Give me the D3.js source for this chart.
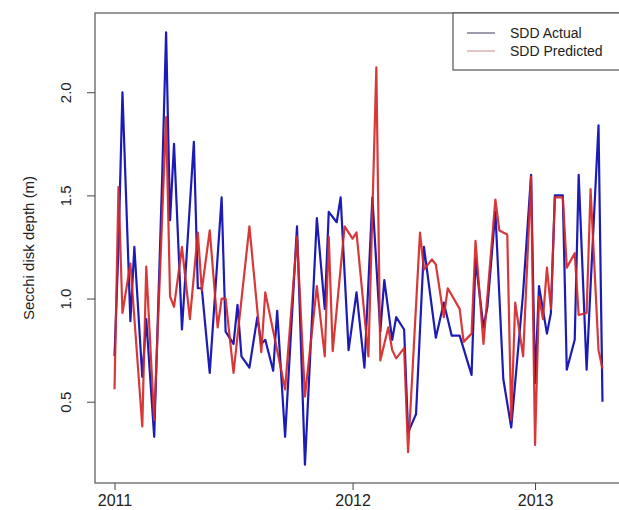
<!DOCTYPE html>
<html>
<head>
<meta charset="utf-8">
<script src="https://cdn.jsdelivr.net/npm/d3@7"></script>
<style>
  body { margin: 0; background: #fff; }
  svg { display: block; font-family: "Liberation Sans", Arial, sans-serif; }
</style>
</head>
<body>
<svg id="chart" width="619" height="510"></svg>
<script>
"use strict";

// observation number -> Secchi disk depth (m), turning points of each series
const actualObs = [1, 2, 3, 5, 6, 8, 9, 11, 13, 14, 15, 16, 18, 21, 22, 23, 25, 28, 29, 31, 32, 33, 35, 37, 38, 39, 41, 42, 44, 47, 49, 52, 54, 55, 57, 58, 60, 62, 64, 66, 68, 69, 71, 72, 74, 75, 77, 79, 82, 84, 86, 88, 91, 92, 94, 95, 97, 99, 101, 104, 106, 107, 108, 110, 111, 112, 114, 115, 117, 118, 120, 121, 123, 124];
const actualSDD = [0.72, 1.25, 2.00, 0.89, 1.25, 0.62, 0.90, 0.33, 1.58, 2.29, 1.38, 1.75, 0.85, 1.76, 1.05, 1.05, 0.64, 1.49, 0.84, 0.78, 0.97, 0.72, 0.665, 0.91, 0.78, 0.80, 0.65, 0.94, 0.33, 1.35, 0.195, 1.39, 0.95, 1.42, 1.37, 1.49, 0.75, 1.03, 0.665, 1.49, 0.84, 1.09, 0.80, 0.91, 0.85, 0.35, 0.44, 1.25, 0.81, 0.98, 0.82, 0.82, 0.63, 1.19, 0.86, 0.96, 1.42, 0.61, 0.375, 1.03, 1.60, 0.59, 1.06, 0.83, 0.93, 1.50, 1.50, 0.655, 0.80, 1.60, 0.655, 1.06, 1.84, 0.50];

const predObs = [1, 2, 3, 5, 8, 9, 11, 14, 15, 16, 18, 20, 22, 23, 25, 27, 28, 29, 31, 35, 38, 39, 44, 47, 49, 52, 54, 55, 56, 59, 61, 62, 65, 67, 68, 70, 71, 72, 74, 75, 78, 79, 81, 82, 84, 85, 88, 89, 91, 92, 94, 97, 98, 100, 101, 102, 104, 106, 107, 108, 109, 110, 111, 112, 114, 115, 117, 118, 120, 121, 123, 124];
const predSDD = [0.56, 1.54, 0.93, 1.17, 0.38, 1.155, 0.41, 1.88, 1.01, 0.96, 1.25, 0.90, 1.32, 1.04, 1.33, 0.86, 1.00, 1.00, 0.64, 1.35, 0.74, 1.03, 0.56, 1.30, 0.525, 1.06, 0.72, 1.30, 0.745, 1.35, 1.29, 1.32, 0.72, 2.12, 0.70, 0.86, 0.75, 0.71, 0.76, 0.255, 1.32, 1.14, 1.19, 1.165, 0.91, 1.05, 0.95, 0.79, 0.83, 1.28, 0.78, 1.48, 1.33, 1.31, 0.41, 0.98, 0.72, 1.59, 0.29, 1.01, 0.90, 1.15, 0.95, 1.49, 1.49, 1.15, 1.22, 0.92, 0.93, 1.53, 0.75, 0.66];

const yearTicks = [1, 61, 107];
const yearLabels = ["2011", "2012", "2013"];
const yTicks = [0.5, 1.0, 1.5, 2.0];
const seriesNames = ["SDD Actual", "SDD Predicted"];

const svg = d3.select("#chart");
const plot = {left: 95, top: 13, right: 622, bottom: 483};

const x = d3.scaleLinear().domain([-3.92, 128.92]).range([plot.left, plot.right]);
const y = d3.scaleLinear().domain([0.106, 2.384]).range([plot.bottom, plot.top]);

// frame
svg.append("rect")
    .attr("x", plot.left).attr("y", plot.top)
    .attr("width", plot.right - plot.left).attr("height", plot.bottom - plot.top)
    .attr("fill", "none").attr("stroke", "#555").attr("stroke-width", 1.2);

// y axis, labels turned like R's default
const yAxis = svg.append("g")
    .attr("transform", `translate(${plot.left},0)`)
    .call(d3.axisLeft(y).tickValues(yTicks).tickSize(8).tickFormat(d3.format(".1f")));
yAxis.select(".domain").remove();
yAxis.selectAll("line").attr("stroke", "#444");
yAxis.selectAll("text")
    .attr("transform", "rotate(-90)")
    .attr("x", 0)
    .attr("y", -24)
    .attr("dy", "0")
    .attr("text-anchor", "middle")
    .attr("font-size", 15)
    .attr("fill", "#222");

// x axis
const xAxis = svg.append("g")
    .attr("transform", `translate(0,${plot.bottom})`)
    .call(d3.axisBottom(x).tickValues(yearTicks).tickSize(7)
        .tickFormat(function(d, i) { return yearLabels[i]; }));
xAxis.select(".domain").remove();
xAxis.selectAll("line").attr("stroke", "#444");
xAxis.selectAll("text")
    .attr("y", 12)
    .attr("font-size", 16)
    .attr("fill", "#222");

// y title
svg.append("text")
    .attr("transform", `translate(34,${(plot.top + plot.bottom) / 2}) rotate(-90)`)
    .attr("text-anchor", "middle")
    .attr("font-size", 15)
    .attr("fill", "#222")
    .text("Secchi disk depth (m)");

const line = d3.line()
    .x(function(d) { return x(d[0]); })
    .y(function(d) { return y(d[1]); });

svg.append("path")
    .datum(d3.zip(actualObs, actualSDD))
    .attr("d", line)
    .attr("fill", "none")
    .attr("stroke", "#1c1cb4")
    .attr("stroke-width", 2.2)
    .attr("stroke-linejoin", "round");

svg.append("path")
    .datum(d3.zip(predObs, predSDD))
    .attr("d", line)
    .attr("fill", "none")
    .attr("stroke", "#d42828")
    .attr("stroke-width", 2.2)
    .attr("stroke-linejoin", "round")
    .attr("opacity", 0.92);

// legend
const legend = svg.append("g");
legend.append("rect")
    .attr("x", 453).attr("y", plot.top)
    .attr("width", 180).attr("height", 57)
    .attr("fill", "#fff").attr("stroke", "#555").attr("stroke-width", 1.2);
const legendColors = ["#3a3a5a", "#c88a8a"];
seriesNames.forEach(function(name, i) {
    legend.append("line")
        .attr("x1", 467).attr("x2", 495)
        .attr("y1", 33 + i * 18).attr("y2", 33 + i * 18)
        .attr("stroke", legendColors[i]).attr("stroke-width", 1);
    legend.append("text")
        .attr("x", 510).attr("y", 38 + i * 18)
        .attr("font-size", 14)
        .attr("fill", "#222")
        .text(name);
});
</script>
</body>
</html>
